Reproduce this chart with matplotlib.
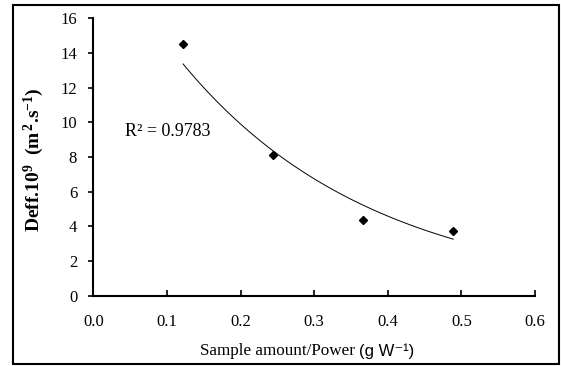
import numpy as np
import matplotlib
matplotlib.use("Agg")
import matplotlib.pyplot as plt
import matplotlib.ticker as ticker
from matplotlib.patches import Rectangle

# data
sample_power = [0.122, 0.244, 0.367, 0.489]
deff = [14.5, 8.1, 4.35, 3.72]
r2_label = "R\u00b2 = 0.9783"

plt.rcParams["font.family"] = ["Liberation Serif", "DejaVu Serif"]
plt.rcParams["mathtext.fontset"] = "custom"
plt.rcParams["mathtext.rm"] = "Liberation Serif:bold"
plt.rcParams["mathtext.it"] = "Liberation Serif:italic:bold"

fig = plt.figure(figsize=(5.61, 3.66), dpi=100)
ax = fig.add_axes([0.1663, 0.192, 0.7874, 0.758])

ax.plot(sample_power, deff, linestyle="none", marker="D", markersize=4,
        color="black")

# exponential trendline (fitted on log values, like a spreadsheet trendline)
b, ln_a = np.polyfit(sample_power, np.log(deff), 1)
xs = np.linspace(min(sample_power), max(sample_power), 100)
ax.plot(xs, np.exp(ln_a) * np.exp(b * xs), color="black", linewidth=0.7)

ax.set_xlim(0, 0.6)
ax.set_ylim(0, 16)
ax.xaxis.set_major_locator(ticker.MultipleLocator(0.1))
ax.xaxis.set_major_formatter(ticker.FormatStrFormatter("%.1f"))
ax.yaxis.set_major_locator(ticker.MultipleLocator(2))
ax.tick_params(axis="x", direction="in", length=4.5, width=1.2, pad=13,
               labelsize=12)
ax.tick_params(axis="y", direction="out", length=3.6, width=1.2, pad=8,
               labelsize=12)
ax.spines[["top", "right"]].set_visible(False)
ax.spines[["left", "bottom"]].set_linewidth(1.5)

ax.set_ylabel(r"Deff.10$^{\mathrm{9}}$  (m$^{\,\mathrm{2}}$.s$^{\mathrm{-1}}$)",
              fontsize=14, fontweight="bold")
ax.yaxis.set_label_coords(-0.108, 0.49)

fig.text(200 / 561, 1 - 351 / 366, "Sample amount/Power", fontsize=12.3,
         ha="left", va="center")
fig.text(359 / 561, 1 - 351 / 366, "(g W\u207b\u00b9)", fontsize=12,
         family=["Liberation Sans", "DejaVu Sans"], ha="left", va="center")

fig.text(125 / 561, 1 - 132 / 366, r2_label, fontsize=13, ha="left",
         va="center")

fig.patches.append(Rectangle((0.0232, 0.0055), 0.9733, 0.981,
                             transform=fig.transFigure, fill=False,
                             edgecolor="black", linewidth=1.5))

fig.savefig("out.png", dpi=100)
